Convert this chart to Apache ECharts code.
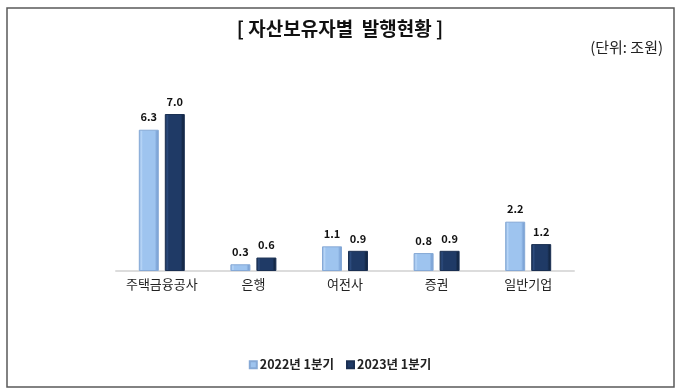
<!DOCTYPE html>
<html><head><meta charset="utf-8">
<script src="https://cdn.jsdelivr.net/npm/echarts@6/dist/echarts.min.js"></script>
<style>html,body{margin:0;padding:0;background:#fff}#c{width:680px;height:390px}</style>
</head><body><div id="c"></div>
<script>
const categories = ['주택금융공사', '은행', '여전사', '증권', '일반기업'];
const seriesNames = ['2022년 1분기', '2023년 1분기'];
const values2022 = [6.3, 0.3, 1.1, 0.8, 2.2];
const values2023 = [7.0, 0.6, 0.9, 0.9, 1.2];
const titleText = '[ 자산보유자별  발행현황 ]';
const unitText = '(단위: 조원)';

const font = '"Malgun Gothic","Noto Sans CJK KR",sans-serif';
function grad(edge, main, hi) {
  return new echarts.graphic.LinearGradient(0, 0, 1, 0, [
    {offset: 0, color: edge}, {offset: 0.12, color: hi}, {offset: 0.2, color: main},
    {offset: 0.8, color: main}, {offset: 0.9, color: edge}, {offset: 1, color: edge}
  ]);
}
const chart = echarts.init(document.getElementById('c'));
chart.setOption({
  animation: false,
  backgroundColor: '#fff',
  textStyle: {fontFamily: font},
  title: [
    {text: titleText, left: 'center', top: 14, textStyle: {fontSize: 19, fontWeight: 'bold', color: '#111', fontFamily: font}},
    {text: unitText, right: 12, top: 35, textStyle: {fontSize: 15, fontWeight: 'normal', color: '#222', fontFamily: font}}
  ],
  legend: {
    bottom: 14, left: 'center', itemWidth: 7, itemHeight: 7, itemGap: 12,
    icon: 'rect',
    textStyle: {fontSize: 12.5, fontWeight: 'bold', color: '#222', fontFamily: font, padding: [0, 0, 0, -2]},
    data: seriesNames
  },
  grid: {left: 116, right: 106, top: 91.6, bottom: 119},
  xAxis: {
    type: 'category', data: categories,
    axisLine: {lineStyle: {color: '#dcdcdc', width: 2}},
    axisTick: {show: false},
    axisLabel: {interval: 0, fontSize: 13, color: '#222', margin: 7, fontFamily: font}
  },
  yAxis: {type: 'value', min: 0, max: 8, show: false, splitLine: {show: false}},
  graphic: [
    {type: 'rect', shape: {x: 7, y: 8, width: 667, height: 379}, style: {fill: 'none', stroke: '#5a5a5a', lineWidth: 1.5}, z: 10, silent: true}
  ],
  series: [
    {
      name: seriesNames[0], type: 'bar', data: values2022,
      barWidth: 20, barGap: '30%',
      itemStyle: {color: grad('#7fa6d8', '#9ec4ef', '#b8d6f7'), borderColor: '#86a9d6', borderWidth: 1},
      label: {show: true, position: 'top', distance: 7, formatter: p => p.value.toFixed(1), fontSize: 11, fontWeight: 'bold', color: '#111', fontFamily: font}
    },
    {
      name: seriesNames[1], type: 'bar', data: values2023,
      barWidth: 20,
      itemStyle: {color: grad('#142846', '#1f3a66', '#2d4c7e'), borderColor: '#1a2f52', borderWidth: 1},
      label: {show: true, position: 'top', distance: 7, formatter: p => p.value.toFixed(1), fontSize: 11, fontWeight: 'bold', color: '#111', fontFamily: font}
    }
  ]
});
</script></body></html>
